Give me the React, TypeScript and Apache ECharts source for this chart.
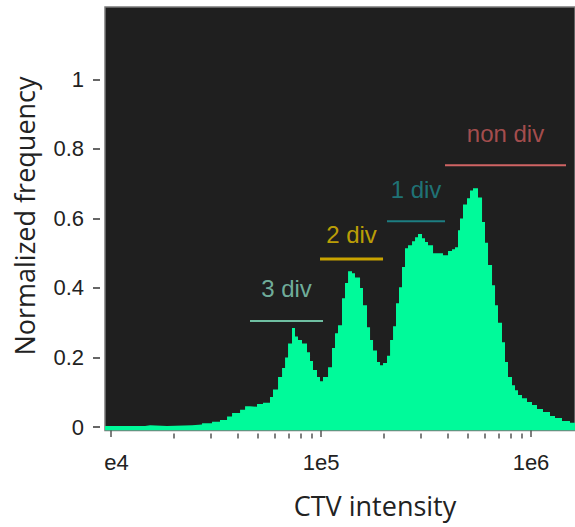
import React, { useEffect, useRef } from "react";
import * as echarts from "echarts";

// Histogram bins (left edge of each bin, CTV intensity) and normalized frequency
const intensity = [
  9360, 12320, 14520, 15340, 18480, 24310, 27130, 30270, 33040, 35680,
  37700, 41160, 43480, 45900, 49560, 52940, 57150, 59060, 62420, 65230,
  67410, 69660, 72750, 75190, 77700, 81190, 85780, 88650, 91600, 95710,
  98910, 102200, 108000, 112800, 116600, 120500, 125900, 130100, 134500, 140500,
  145200, 153400, 158500, 165600, 171200, 176900, 184800, 191000, 197400, 206200,
  213200, 220300, 227600, 235200, 243100, 251200, 259600, 271300, 280400, 289700,
  302700, 312800, 323300, 341600, 368800, 381100, 402600, 420500, 434600, 449200,
  459100, 474500, 495700, 512300, 529400, 559300, 584600, 603900, 624300, 652300,
  674100, 696600, 727500, 751900, 777000, 811900, 839100, 867000, 906000, 957100,
  1011000, 1068000, 1141000, 1232000, 1301000, 1405000, 1533000, 1620000,
];
const frequency = [
  0.003, 0.003, 0.005, 0.003, 0.005, 0.007, 0.011, 0.015, 0.02, 0.03,
  0.04, 0.05, 0.06, 0.058, 0.066, 0.07, 0.086, 0.108, 0.144, 0.17,
  0.2, 0.24, 0.285, 0.26, 0.25, 0.24, 0.215, 0.19, 0.164, 0.144,
  0.132, 0.144, 0.172, 0.227, 0.27, 0.293, 0.37, 0.414, 0.448, 0.442,
  0.43, 0.4, 0.35, 0.287, 0.25, 0.22, 0.187, 0.178, 0.184, 0.205,
  0.25, 0.29, 0.356, 0.402, 0.46, 0.514, 0.523, 0.534, 0.546, 0.555,
  0.543, 0.532, 0.523, 0.5, 0.5, 0.494, 0.506, 0.511, 0.517, 0.566,
  0.6, 0.64, 0.658, 0.68, 0.687, 0.66, 0.59, 0.53, 0.466, 0.408,
  0.35, 0.3, 0.244, 0.187, 0.144, 0.12, 0.106, 0.092, 0.083, 0.072,
  0.063, 0.052, 0.043, 0.032, 0.026, 0.017, 0.012, 0.012,
];

const xMin = 9360;
const xMax = 1620000;
const yMin = -0.01;
const yMax = 1.208;

const yTicks = [0, 0.2, 0.4, 0.6, 0.8, 1];
const xMajorTicks = [1e4, 1e5, 1e6];
const xMajorLabels = ["e4", "1e5", "1e6"];
const xMinorTicks = [
  2e4, 3e4, 4e4, 5e4, 6e4, 7e4, 8e4, 9e4,
  2e5, 3e5, 4e5, 5e5, 6e5, 7e5, 8e5, 9e5,
];

// Division annotations
const divNames = ["3 div", "2 div", "1 div", "non div"];
const divStart = [45900, 98900, 206200, 389500];
const divEnd = [102200, 197400, 389500, 1468000];
const divLineY = [0.305, 0.483, 0.592, 0.753];
const divLabelX = [68500, 139700, 283400, 756000];
const divLabelY = [0.397, 0.555, 0.684, 0.845];
const divTextColors = ["#86d4bc", "#e6c200", "#1f8a8e", "#c85a5a"];
const divLineColors = ["#6fbfa2", "#c9a400", "#1d7e82", "#d06464"];
const divLineWidths = [2, 3, 2, 2];

export default function App() {
  const ref = useRef<HTMLDivElement>(null);

  useEffect(() => {
    document.body.style.margin = "0";
    if (!ref.current) return;
    const chart = echarts.init(ref.current, null, { renderer: "svg" });

    const histData = intensity.map((x, i) => [x, frequency[i]]);

    const divLineSeries = divNames.map((name, i) => ({
      type: "line",
      name,
      xAxisIndex: 0,
      yAxisIndex: 0,
      data: [
        [divStart[i], divLineY[i]],
        [divEnd[i], divLineY[i]],
      ],
      symbol: "none",
      lineStyle: { color: divLineColors[i], width: divLineWidths[i] },
      z: 5,
    }));

    const option = {
      animation: false,
      backgroundColor: "#ffffff",
      grid: {
        left: 105,
        right: 0,
        top: 7,
        bottom: 96.5,
        show: true,
        backgroundColor: "#1f1f1f",
        borderColor: "#7a7a7a",
        borderWidth: 1.5,
      },
      xAxis: [
        {
          type: "log",
          logBase: 10,
          min: xMin,
          max: xMax,
          position: "bottom",
          offset: 3,
          axisLine: { show: false },
          splitLine: { show: false },
          minorTick: { show: false },
          axisTick: {
            show: true,
            customValues: xMajorTicks,
            length: 10,
            lineStyle: { color: "#555555", width: 1.5 },
          },
          axisLabel: {
            customValues: xMajorTicks,
            margin: 18,
            fontSize: 22,
            color: "#222222",
            fontFamily: "Liberation Sans",
            formatter: (v: number) => {
              const idx = Math.round(Math.log10(v)) - 4;
              const t = xMajorLabels[idx] ?? "";
              return idx === 0 ? "{s|" + t + "}" : t;
            },
            rich: {
              s: {
                padding: [0, 0, 0, 11],
                fontSize: 22,
                color: "#222222",
                fontFamily: "Liberation Sans",
              },
            },
          },
        },
        {
          type: "log",
          logBase: 10,
          min: xMin,
          max: xMax,
          position: "bottom",
          offset: 3,
          axisLine: { show: false },
          splitLine: { show: false },
          axisLabel: { show: false },
          axisTick: {
            show: true,
            customValues: xMinorTicks,
            length: 5,
            lineStyle: { color: "#555555", width: 1.5 },
          },
        },
      ],
      yAxis: {
        type: "value",
        min: yMin,
        max: yMax,
        position: "left",
        offset: 5,
        axisLine: { show: false },
        splitLine: { show: false },
        axisTick: {
          show: true,
          customValues: yTicks,
          length: 7,
          lineStyle: { color: "#666666", width: 2 },
        },
        axisLabel: {
          customValues: yTicks,
          margin: 16,
          fontSize: 22,
          color: "#222222",
          fontFamily: "Liberation Sans",
          formatter: (v: number) => String(Math.round(v * 10) / 10),
        },
      },
      graphic: [
        {
          type: "text",
          x: 24,
          y: 216,
          rotation: Math.PI / 2,
          style: {
            text: "Normalized frequency",
            fontSize: 27,
            fontFamily: "Open Sans",
            fill: "#222222",
            align: "center",
            verticalAlign: "middle",
          },
        },
        {
          type: "text",
          x: 375,
          y: 505,
          style: {
            text: "CTV intensity",
            fontSize: 27,
            fontFamily: "Open Sans",
            fill: "#222222",
            align: "center",
            verticalAlign: "middle",
          },
        },
      ],
      series: [
        {
          type: "line",
          name: "histogram",
          data: histData,
          step: "end",
          symbol: "none",
          lineStyle: { width: 0 },
          areaStyle: { color: "#00fa9a", opacity: 1, origin: "start" },
          z: 2,
        },
        ...divLineSeries,
        {
          type: "scatter",
          name: "labels",
          symbolSize: 0,
          z: 6,
          data: divNames.map((name, i) => ({
            value: [divLabelX[i], divLabelY[i]],
            label: {
              show: true,
              position: "inside",
              formatter: name,
              color: divTextColors[i],
              fontSize: 24,
              fontFamily: "Liberation Sans",
            },
          })),
        },
      ],
    };

    chart.setOption(option as any);
    return () => chart.dispose();
  }, []);

  return <div ref={ref} style={{ width: 575, height: 527 }} />;
}
